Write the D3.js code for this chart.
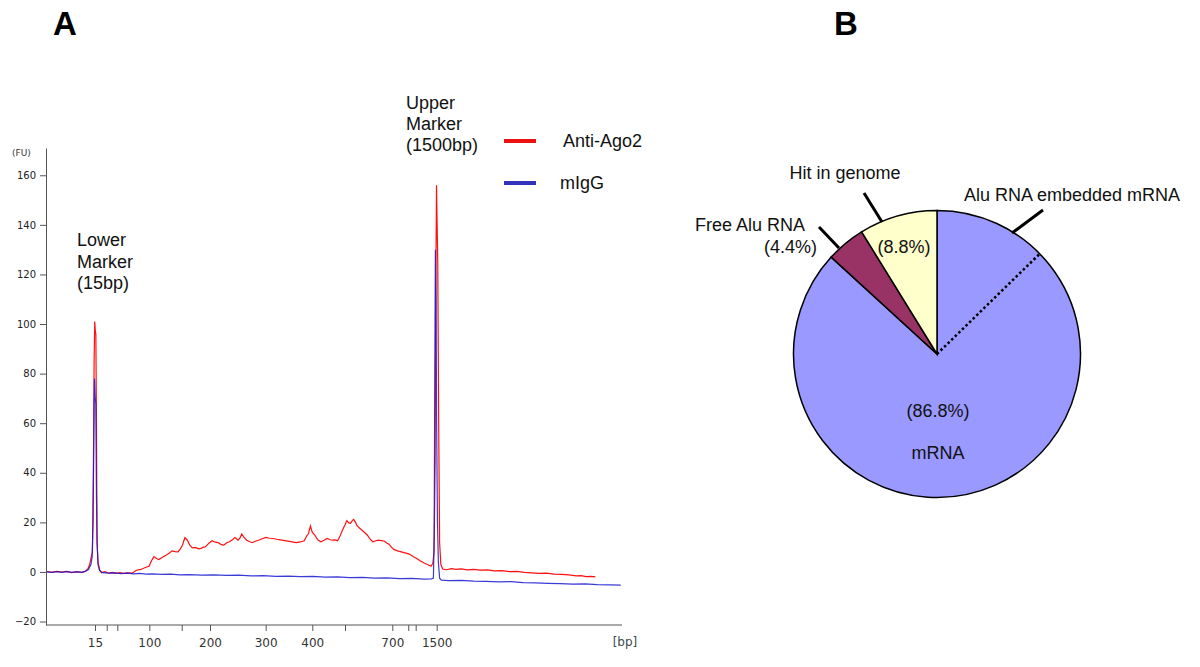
<!DOCTYPE html>
<html><head><meta charset="utf-8">
<script src="https://cdn.jsdelivr.net/npm/d3@7"></script>
<style>body{margin:0;background:#fff} svg{display:block}</style>
</head><body><svg id="c" width="1200" height="667"></svg>
<script>
// ---------- Panel A data (Bioanalyzer electropherogram) ----------
// x is migration time (s); ladder sizes (bp) mark tick positions
const ladderBp   = [15, 25, 50, 100, 150, 200, 300, 400, 500, 700, 850, 1000, 1500];
const ladderTime = [44.76, 46.66, 48.37, 53.55, 58.79, 63.36, 72.37, 79.91, 85.2, 92.85, 95.43, 96.63, 100.03];
const labeledBp  = [15, 100, 200, 300, 400, 700, 1500];
const fuTicks    = [-20, 0, 20, 40, 60, 80, 100, 120, 140, 160];

const antiAgo2 = [[37.0,0.1],[37.8,-0.2],[38.6,0.2],[39.4,-0.1],[40.2,0.2],[41.0,-0.3],[41.8,0.1],[42.6,-0.2],[43.2,0.3],[43.6,1.2],[43.9,3],[44.15,6],[44.35,8],[44.5,40],[44.62,85],[44.72,101],[44.82,97],[44.9,96],[45.0,60],[45.1,12],[45.25,4],[45.5,1],[45.8,-0.3],[46.4,0.1],[47.0,-0.5],[47.6,-0.2],[48.2,-0.6],[48.8,-0.3],[49.4,-0.6],[50.0,-0.4],[50.8,-0.5],[51.2,0.3],[51.6,0.8],[52.2,1.0],[52.9,1.8],[53.5,2.3],[53.9,4.5],[54.3,6.2],[54.7,5.4],[55.1,5.0],[55.6,5.8],[56.3,6.8],[56.8,7.6],[57.2,8.5],[57.7,8.2],[58.2,8.1],[58.6,9.4],[58.9,10.8],[59.3,13.8],[59.7,12.8],[60.1,10.8],[60.5,9.7],[61.0,9.9],[61.5,9.3],[61.9,9.5],[62.3,10.0],[62.6,10.1],[63.2,11.6],[63.7,12.6],[64.2,12.0],[64.7,11.8],[65.2,11.0],[65.6,10.8],[66.0,11.7],[66.5,12.2],[67.0,13.0],[67.4,13.9],[67.9,12.8],[68.2,13.6],[68.5,15.3],[68.9,13.8],[69.3,12.8],[69.8,12.2],[70.2,11.8],[70.7,12.4],[71.2,12.8],[71.8,13.4],[72.4,13.9],[73.0,13.6],[73.6,13.5],[74.5,13.0],[75.5,12.6],[76.4,12.2],[77.3,11.8],[78.0,12.1],[78.6,12.6],[79.0,14.5],[79.3,15.5],[79.6,18.5],[79.9,16.0],[80.3,14.9],[80.8,13.0],[81.3,12.2],[81.8,12.8],[82.3,13.5],[82.8,13.0],[83.2,12.8],[83.6,12.9],[84.0,12.6],[84.4,14.5],[84.8,16.9],[85.2,19.0],[85.5,20.7],[85.8,19.8],[86.1,19.6],[86.4,20.8],[86.6,21.2],[86.9,20.0],[87.1,18.9],[87.5,17.8],[87.9,16.9],[88.4,15.8],[88.8,14.9],[89.2,13.4],[89.7,12.2],[90.2,12.6],[90.6,12.8],[91.1,12.6],[91.6,12.4],[92.0,11.6],[92.3,11.2],[92.7,10.0],[93.1,9.1],[93.7,8.5],[94.3,8.1],[94.9,7.7],[95.6,7.2],[96.2,6.2],[96.8,5.4],[97.4,4.4],[98.0,3.6],[98.6,2.9],[99.1,2.3],[99.4,3.4],[99.6,8],[99.78,45],[99.9,120],[100.0,156],[100.1,140],[100.2,125],[100.35,60],[100.5,12],[100.7,3],[101.0,1.2],[101.6,0.9],[102.4,1.3],[103.2,1.0],[104.0,1.2],[105.0,0.8],[106.0,1.0],[107.0,0.7],[108.2,0.8],[109.4,0.4],[110.6,0.5],[111.8,0.1],[113.0,0.2],[114.2,-0.2],[115.4,-0.4],[116.6,-0.6],[117.8,-0.5],[119.0,-0.9],[120.2,-1.0],[121.4,-1.2],[122.6,-1.6],[123.4,-1.5],[124.2,-1.9],[125.0,-1.8],[125.7,-2.0]];

const mIgG = [[37.0,0.0],[37.8,-0.2],[38.6,0.1],[39.4,-0.2],[40.2,0.1],[41.0,-0.2],[41.8,0.0],[42.6,-0.2],[43.2,0.2],[43.7,1.0],[44.1,3],[44.3,6],[44.45,20],[44.55,48],[44.68,78],[44.8,70],[44.9,68],[45.0,30],[45.1,12],[45.25,3],[45.5,0.5],[46.0,-0.3],[47.0,-0.5],[48.0,-0.4],[49.0,-0.7],[50.0,-0.5],[51.0,-0.8],[52.0,-0.6],[53.0,-0.9],[54.0,-0.8],[55.5,-1.0],[57.0,-0.9],[58.5,-1.2],[60.0,-1.1],[62.0,-1.3],[64.0,-1.2],[66.0,-1.4],[68.0,-1.3],[70.0,-1.6],[72.0,-1.5],[74.0,-1.8],[76.0,-1.7],[78.0,-1.9],[80.0,-1.8],[82.0,-2.1],[84.0,-2.0],[86.0,-2.3],[88.0,-2.2],[90.0,-2.5],[92.0,-2.4],[94.0,-2.7],[96.0,-2.6],[98.0,-2.9],[99.2,-2.8],[99.5,-2.5],[99.62,15],[99.72,80],[99.82,130],[99.92,110],[100.02,60],[100.15,20],[100.3,4],[100.5,-2.5],[100.8,-3.3],[102.0,-3.5],[104.0,-3.4],[106.0,-3.7],[108.0,-3.8],[110.0,-4.0],[112.0,-3.9],[114.0,-4.3],[116.0,-4.4],[118.0,-4.6],[120.0,-4.7],[122.0,-4.9],[124.0,-4.8],[126.0,-5.1],[128.0,-5.2],[129.8,-5.3]];

const seriesNames = ["Anti-Ago2", "mIgG"];

// ---------- Panel B data (pie) ----------
const pieCategories = ["mRNA", "Free Alu RNA", "Hit in genome"];
const pieValues     = [86.8, 4.4, 8.8];
const aluEmbeddedShare = 12.7; // % of circle (within mRNA) marked by dotted line

// ---------- drawing ----------
const svg = d3.select("#c");
svg.append("rect").attr("width",1200).attr("height",667).attr("fill","#fff");
const SANS = "'Liberation Sans', Arial, sans-serif";

svg.append("text").attr("x",53).attr("y",35).attr("font-family",SANS)
  .attr("font-weight","bold").attr("font-size",33).text("A");
svg.append("text").attr("x",834).attr("y",35).attr("font-family",SANS)
  .attr("font-weight","bold").attr("font-size",33).text("B");

const x = d3.scaleLinear().domain([37,130]).range([47,622]);
const y = d3.scaleLinear().domain([-21.4,171]).range([625,148]);

const yAxis = svg.append("g").attr("transform","translate(46,0)")
  .call(d3.axisLeft(y).tickValues(fuTicks).tickSize(6).tickSizeOuter(0).tickPadding(4));
yAxis.selectAll("text").attr("font-family","'DejaVu Sans', sans-serif").attr("font-size",10).attr("fill","#222");
yAxis.selectAll("line,path").attr("stroke","#555");

const xAxis = svg.append("g").attr("transform","translate(0,625)")
  .call(d3.axisBottom(x).tickValues(ladderTime).tickSize(6).tickSizeOuter(0).tickPadding(7)
    .tickFormat((d,i)=> labeledBp.includes(ladderBp[i]) ? ladderBp[i] : ""));
xAxis.select("path").attr("d","M46,0H622");
xAxis.selectAll("text").attr("font-family","'DejaVu Sans', sans-serif").attr("font-size",12).attr("fill","#333");
xAxis.selectAll("line,path").attr("stroke","#555");

svg.append("text").attr("x",625).attr("y",646).attr("text-anchor","middle")
  .attr("font-family","'DejaVu Sans', sans-serif").attr("font-size",12).attr("fill","#3a4a4a").text("[bp]");
svg.append("text").attr("x",12).attr("y",156)
  .attr("font-family","'DejaVu Sans', sans-serif").attr("font-size",9).attr("fill","#333").text("(FU)");

const line = d3.line().x(d=>x(d[0])).y(d=>y(d[1]));
svg.append("path").datum(antiAgo2).attr("d",line).attr("fill","none")
  .attr("stroke","#ff1010").attr("stroke-width",1.2);
svg.append("path").datum(mIgG).attr("d",line).attr("fill","none")
  .attr("stroke","#1818d0").attr("stroke-width",1.2).attr("opacity",0.85);

// annotations
function multiline(xp, y0, lines, dy){
  const t = svg.append("text").attr("font-family",SANS).attr("font-size",18).attr("fill","#111");
  lines.forEach((s,i)=> t.append("tspan").attr("x",xp).attr("y",y0+i*dy).text(s));
}
multiline(77, 246, ["Lower","Marker","(15bp)"], 21.5);
multiline(406, 109, ["Upper","Marker","(1500bp)"], 21);

// legend
const legColors = ["#ee1111","#3333bb"];
seriesNames.forEach((n,i)=>{
  const ly = 141 + i*42;
  svg.append("line").attr("x1",504).attr("x2",536).attr("y1",ly).attr("y2",ly)
    .attr("stroke",legColors[i]).attr("stroke-width",4);
  svg.append("text").attr("x", i===0 ? 563 : 560).attr("y",ly+6).attr("font-family",SANS)
    .attr("font-size",18).attr("fill","#111").text(n);
});

// ---------- pie ----------
const cx = 937, cy = 354, r = 143.5;
const pieColors = {"mRNA":"#9999ff","Free Alu RNA":"#993366","Hit in genome":"#ffffcc"};
const arcs = d3.pie().sort(null).value(d=>d)(pieValues);
const arc = d3.arc().innerRadius(0).outerRadius(r);
const pg = svg.append("g").attr("transform",`translate(${cx},${cy})`);
pg.selectAll("path").data(arcs).join("path").attr("d",arc)
  .attr("fill",(d,i)=>pieColors[pieCategories[i]]).attr("stroke","#000").attr("stroke-width",1.5);
const a = aluEmbeddedShare/100*2*Math.PI;
pg.append("line").attr("x1",0).attr("y1",0).attr("x2",r*Math.sin(a)).attr("y2",-r*Math.cos(a))
  .attr("stroke","#000").attr("stroke-width",2.5).attr("stroke-dasharray","2.5,2.5");

function txt(xp, yp, s, anchor){
  svg.append("text").attr("x",xp).attr("y",yp).attr("text-anchor",anchor||"middle")
    .attr("font-family",SANS).attr("font-size",18).attr("fill","#111").text(s);
}
txt(938, 417, `(${pieValues[0]}%)`);
txt(938, 459, pieCategories[0]);
txt(904, 253, `(${pieValues[2]}%)`);
txt(817, 253, `(${pieValues[1]}%)`, "end");
txt(805, 231, pieCategories[1], "end");
txt(845, 179, pieCategories[2]);
txt(1072, 201, "Alu RNA embedded mRNA");

const ptr = [[864,193,882,222],[819,227,839,248],[1043,210,1012,233]];
ptr.forEach(p=> svg.append("line").attr("x1",p[0]).attr("y1",p[1]).attr("x2",p[2]).attr("y2",p[3])
  .attr("stroke","#000").attr("stroke-width",3));
</script></body></html>
